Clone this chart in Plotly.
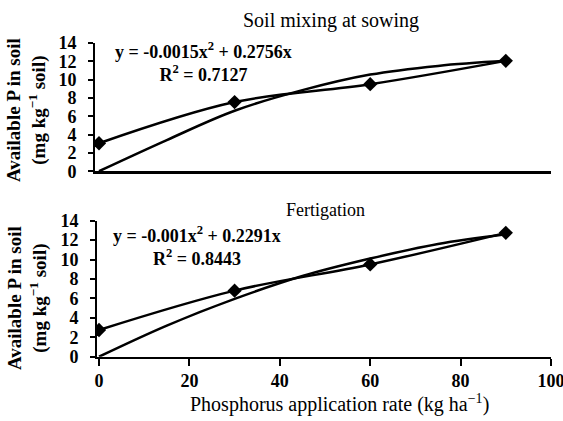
import plotly.graph_objects as go

# Data
rate = [0, 30, 60, 90]
soil_mixing = [3.05, 7.55, 9.5, 12.05]
fertigation = [2.75, 6.8, 9.5, 12.75]

trend_x = [0, 15, 30, 45, 60, 75, 90]
trend_soil_mixing = [0, 3.4, 6.6, 8.85, 10.55, 11.5, 12.05]
trend_fertigation = [0, 3.2, 5.95, 8.3, 10.1, 11.6, 12.6]

x_ticks = [0, 20, 40, 60, 80, 100]
y_ticks = [0, 2, 4, 6, 8, 10, 12, 14]

FONT = "Liberation Serif"
W, H = 563, 421

fig = go.Figure()

def add_panel(xa, ya, data, trend):
    fig.add_trace(go.Scatter(x=trend_x, y=trend, mode="lines", line=dict(color="black", width=2.5, shape="spline"),
                             xaxis=xa, yaxis=ya, showlegend=False, hoverinfo="skip"))
    fig.add_trace(go.Scatter(x=rate, y=data, mode="lines+markers", line=dict(color="black", width=2.5, shape="spline"),
                             marker=dict(symbol="diamond", size=11, color="black"),
                             xaxis=xa, yaxis=ya, showlegend=False))

add_panel("x", "y", soil_mixing, trend_soil_mixing)
add_panel("x2", "y2", fertigation, trend_fertigation)

pxu = (551 - 99) / 100.0
top_dom = [1 - 171.2 / H, 1 - 43 / H]
bot_dom = [1 - 356.7 / H, 1 - 220.7 / H]

tickfont = dict(family=FONT, size=18, color="black", weight="bold")
yax = dict(range=[0, 14], showgrid=False, zeroline=False, showline=True, linecolor="black", linewidth=2,
           tickvals=y_ticks, ticks="outside", ticklen=5, tickwidth=2, tickcolor="black",
           tickfont=tickfont, ticklabelstandoff=8)

fig.update_layout(
    width=W, height=H,
    margin=dict(l=0, r=0, t=0, b=0, autoexpand=False),
    paper_bgcolor="white", plot_bgcolor="white",
    font=dict(family=FONT, color="black"),
    xaxis=dict(domain=[95 / W, 551 / W], range=[-4 / pxu, 100], anchor="y", showgrid=False, zeroline=False,
               showline=True, linecolor="black", linewidth=3, showticklabels=False, ticks=""),
    yaxis=dict(domain=top_dom, anchor="x", **yax),
    xaxis2=dict(domain=[97 / W, 551 / W], range=[-2 / pxu, 100], anchor="y2", showgrid=False, zeroline=False,
                showline=True, linecolor="black", linewidth=2, tickvals=x_ticks, ticks="outside",
                ticklen=7, tickwidth=2, tickcolor="black", tickfont=tickfont, ticklabeloverflow="allow"),
    yaxis2=dict(domain=bot_dom, anchor="x2", **yax),
)

ann = []
def pa(text, xpx, ypx, font, angle=0):
    ann.append(dict(text=text, x=xpx / W, y=1 - ypx / H, xref="paper", yref="paper",
                    xanchor="center", yanchor="middle", showarrow=False, textangle=angle, font=font))

def f(size, bold=False):
    d = dict(family=FONT, size=size, color="black")
    if bold:
        d["weight"] = "bold"
    return d

# Panel titles
pa("Soil mixing at sowing", 331, 20, f(20))
pa("Fertigation", 325, 210, f(18))
# X axis title
pa("Phosphorus application rate (kg ha<sup>−1</sup>)", 339, 403, f(20))
# Y axis titles
for yc in [110, 298]:
    pa("Available P in soil<br>(mg kg<sup>−1</sup> soil)", 27, yc, f(19, True), angle=-90)

# Equations (equation and R² as one two-line label)
pa("y = -0.0015x<sup>2</sup> + 0.2756x<br>R<sup>2</sup> = 0.7127", 203, 62, f(18, True))
pa("y = -0.001x<sup>2</sup> + 0.2291x<br>R<sup>2</sup> = 0.8443", 197, 246, f(18, True))

fig.update_layout(annotations=ann)
fig.write_html("out.html", config={"displayModeBar": False},
               post_script="document.body.style.margin='0px';")
